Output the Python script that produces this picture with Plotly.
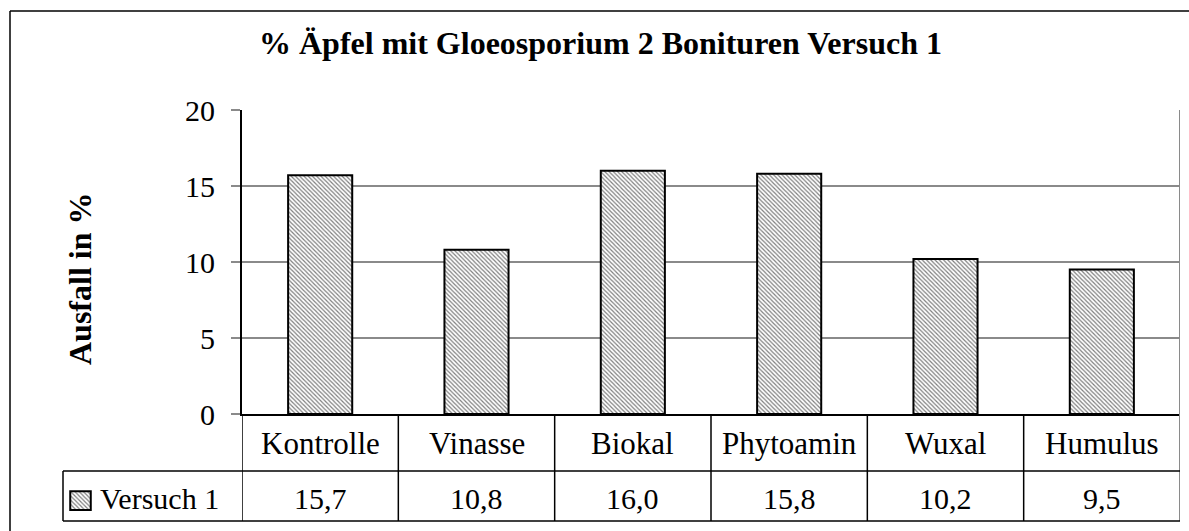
import plotly.graph_objects as go

# ---- data ----
categories = ["Kontrolle", "Vinasse", "Biokal", "Phytoamin", "Wuxal", "Humulus"]
values = [15.7, 10.8, 16.0, 15.8, 10.2, 9.5]
series_name = "Versuch 1"
y_ticks = [0, 5, 10, 15, 20]
title_text = "% Äpfel mit Gloeosporium 2 Bonituren Versuch 1"
y_title = "Ausfall in %"

W, H = 1189, 531
FONT = "Liberation Serif, Times New Roman, serif"


def px(x):
    return x / W


def py(y):
    return 1 - y / H


# layout geometry (pixels)
PL, PR, PT, PB = 242, 1180, 110, 414
ROW1, ROW2 = 471, 521
TABLE_LEFT = 63

pattern = dict(shape="\\", size=3, solidity=0.4, fgcolor="black", bgcolor="white")

fig = go.Figure()
fig.add_trace(go.Bar(
    x=list(range(len(categories))), y=values, name=series_name,
    marker=dict(color="white", pattern=pattern, line=dict(color="black", width=2)),
    showlegend=False, hoverinfo="skip",
))
# legend key swatch drawn as a tiny bar in its own axes
fig.add_trace(go.Bar(
    x=[0], y=[1], width=[1], xaxis="x2", yaxis="y2",
    marker=dict(color="white", pattern=pattern, line=dict(color="black", width=2)),
    showlegend=False, hoverinfo="skip",
))

shapes = []
# outer frame (left and top visible)
shapes.append(dict(type="line", xref="paper", yref="paper", x0=px(10), x1=px(10), y0=py(11), y1=py(540),
                   line=dict(color="black", width=1.5)))
shapes.append(dict(type="line", xref="paper", yref="paper", x0=px(10), x1=px(1200), y0=py(11), y1=py(11),
                   line=dict(color="black", width=1.5)))
# right border of plot area + table
shapes.append(dict(type="line", xref="x", yref="paper", x0=len(categories) - 0.5, x1=len(categories) - 0.5,
                   y0=py(PT), y1=py(ROW2), line=dict(color="#8a8a8a", width=2)))
# column dividers in the table
for i in range(len(categories)):
    shapes.append(dict(type="line", xref="x", yref="paper", x0=i - 0.5, x1=i - 0.5,
                       y0=py(PB), y1=py(ROW2), line=dict(color="black", width=1.5)))
# horizontal table lines
for yy in (ROW1, ROW2):
    shapes.append(dict(type="line", xref="paper", yref="paper", x0=px(TABLE_LEFT), x1=px(PR),
                       y0=py(yy), y1=py(yy), line=dict(color="black", width=1.5)))
shapes.append(dict(type="line", xref="paper", yref="paper", x0=px(TABLE_LEFT), x1=px(TABLE_LEFT),
                   y0=py(ROW1), y1=py(ROW2), line=dict(color="black", width=1.5)))

annotations = []
annotations.append(dict(text="<b>" + title_text + "</b>", xref="paper", yref="paper", x=px(600), y=py(43),
                        xanchor="center", yanchor="middle", showarrow=False,
                        font=dict(family=FONT, size=32, color="black")))
annotations.append(dict(text="<b>" + y_title + "</b>", xref="paper", yref="paper", x=px(80), y=py(279),
                        xanchor="center", yanchor="middle", textangle=-90, showarrow=False,
                        font=dict(family=FONT, size=32, color="black")))
for i, c in enumerate(categories):
    annotations.append(dict(text=c, xref="x", yref="paper", x=i, y=py(443), xanchor="center",
                            yanchor="middle", showarrow=False, font=dict(family=FONT, size=31, color="black")))
for i, v in enumerate(values):
    annotations.append(dict(text=f"{v:.1f}".replace(".", ","), xref="x", yref="paper", x=i, y=py(498),
                            xanchor="center", yanchor="middle", showarrow=False,
                            font=dict(family=FONT, size=30, color="black")))
annotations.append(dict(text=series_name, xref="paper", yref="paper", x=px(98), y=py(498),
                        xanchor="left", yanchor="middle", showarrow=False,
                        font=dict(family=FONT, size=30, color="black")))

fig.update_layout(
    width=W, height=H,
    margin=dict(l=0, r=0, t=0, b=0, pad=0),
    paper_bgcolor="white", plot_bgcolor="white",
    bargap=0.59,
    showlegend=False,
    font=dict(family=FONT, size=30, color="black"),
    xaxis=dict(domain=[px(PL), px(PR)], range=[-0.5, len(categories) - 0.5], showticklabels=False,
               showgrid=False, zeroline=False, showline=True, linecolor="black", linewidth=2,
               ticks="", fixedrange=True, automargin=False),
    yaxis=dict(domain=[py(PB), py(PT)], range=[0, 20], tickvals=y_ticks, ticktext=[str(t) for t in y_ticks],
               showgrid=True, gridcolor="#8a8a8a", gridwidth=2, zeroline=False,
               showline=True, linecolor="black", linewidth=2,
               ticks="outside", ticklen=9, tickwidth=2, tickcolor="#8a8a8a",
               ticklabelstandoff=10, tickfont=dict(family=FONT, size=30, color="black"),
               fixedrange=True, automargin=False),
    xaxis2=dict(domain=[px(69), px(92)], range=[-0.56, 0.56], visible=False, anchor="y2",
                fixedrange=True, automargin=False),
    yaxis2=dict(domain=[py(511), py(490)], range=[-0.06, 1.06], visible=False, anchor="x2",
                fixedrange=True, automargin=False),
    shapes=shapes,
    annotations=annotations,
)

ps = """
document.documentElement.style.margin='0';
document.body.style.margin='0';
document.body.style.overflow='hidden';
"""
fig.write_html("out.html", post_script=ps, config={"displayModeBar": False})
